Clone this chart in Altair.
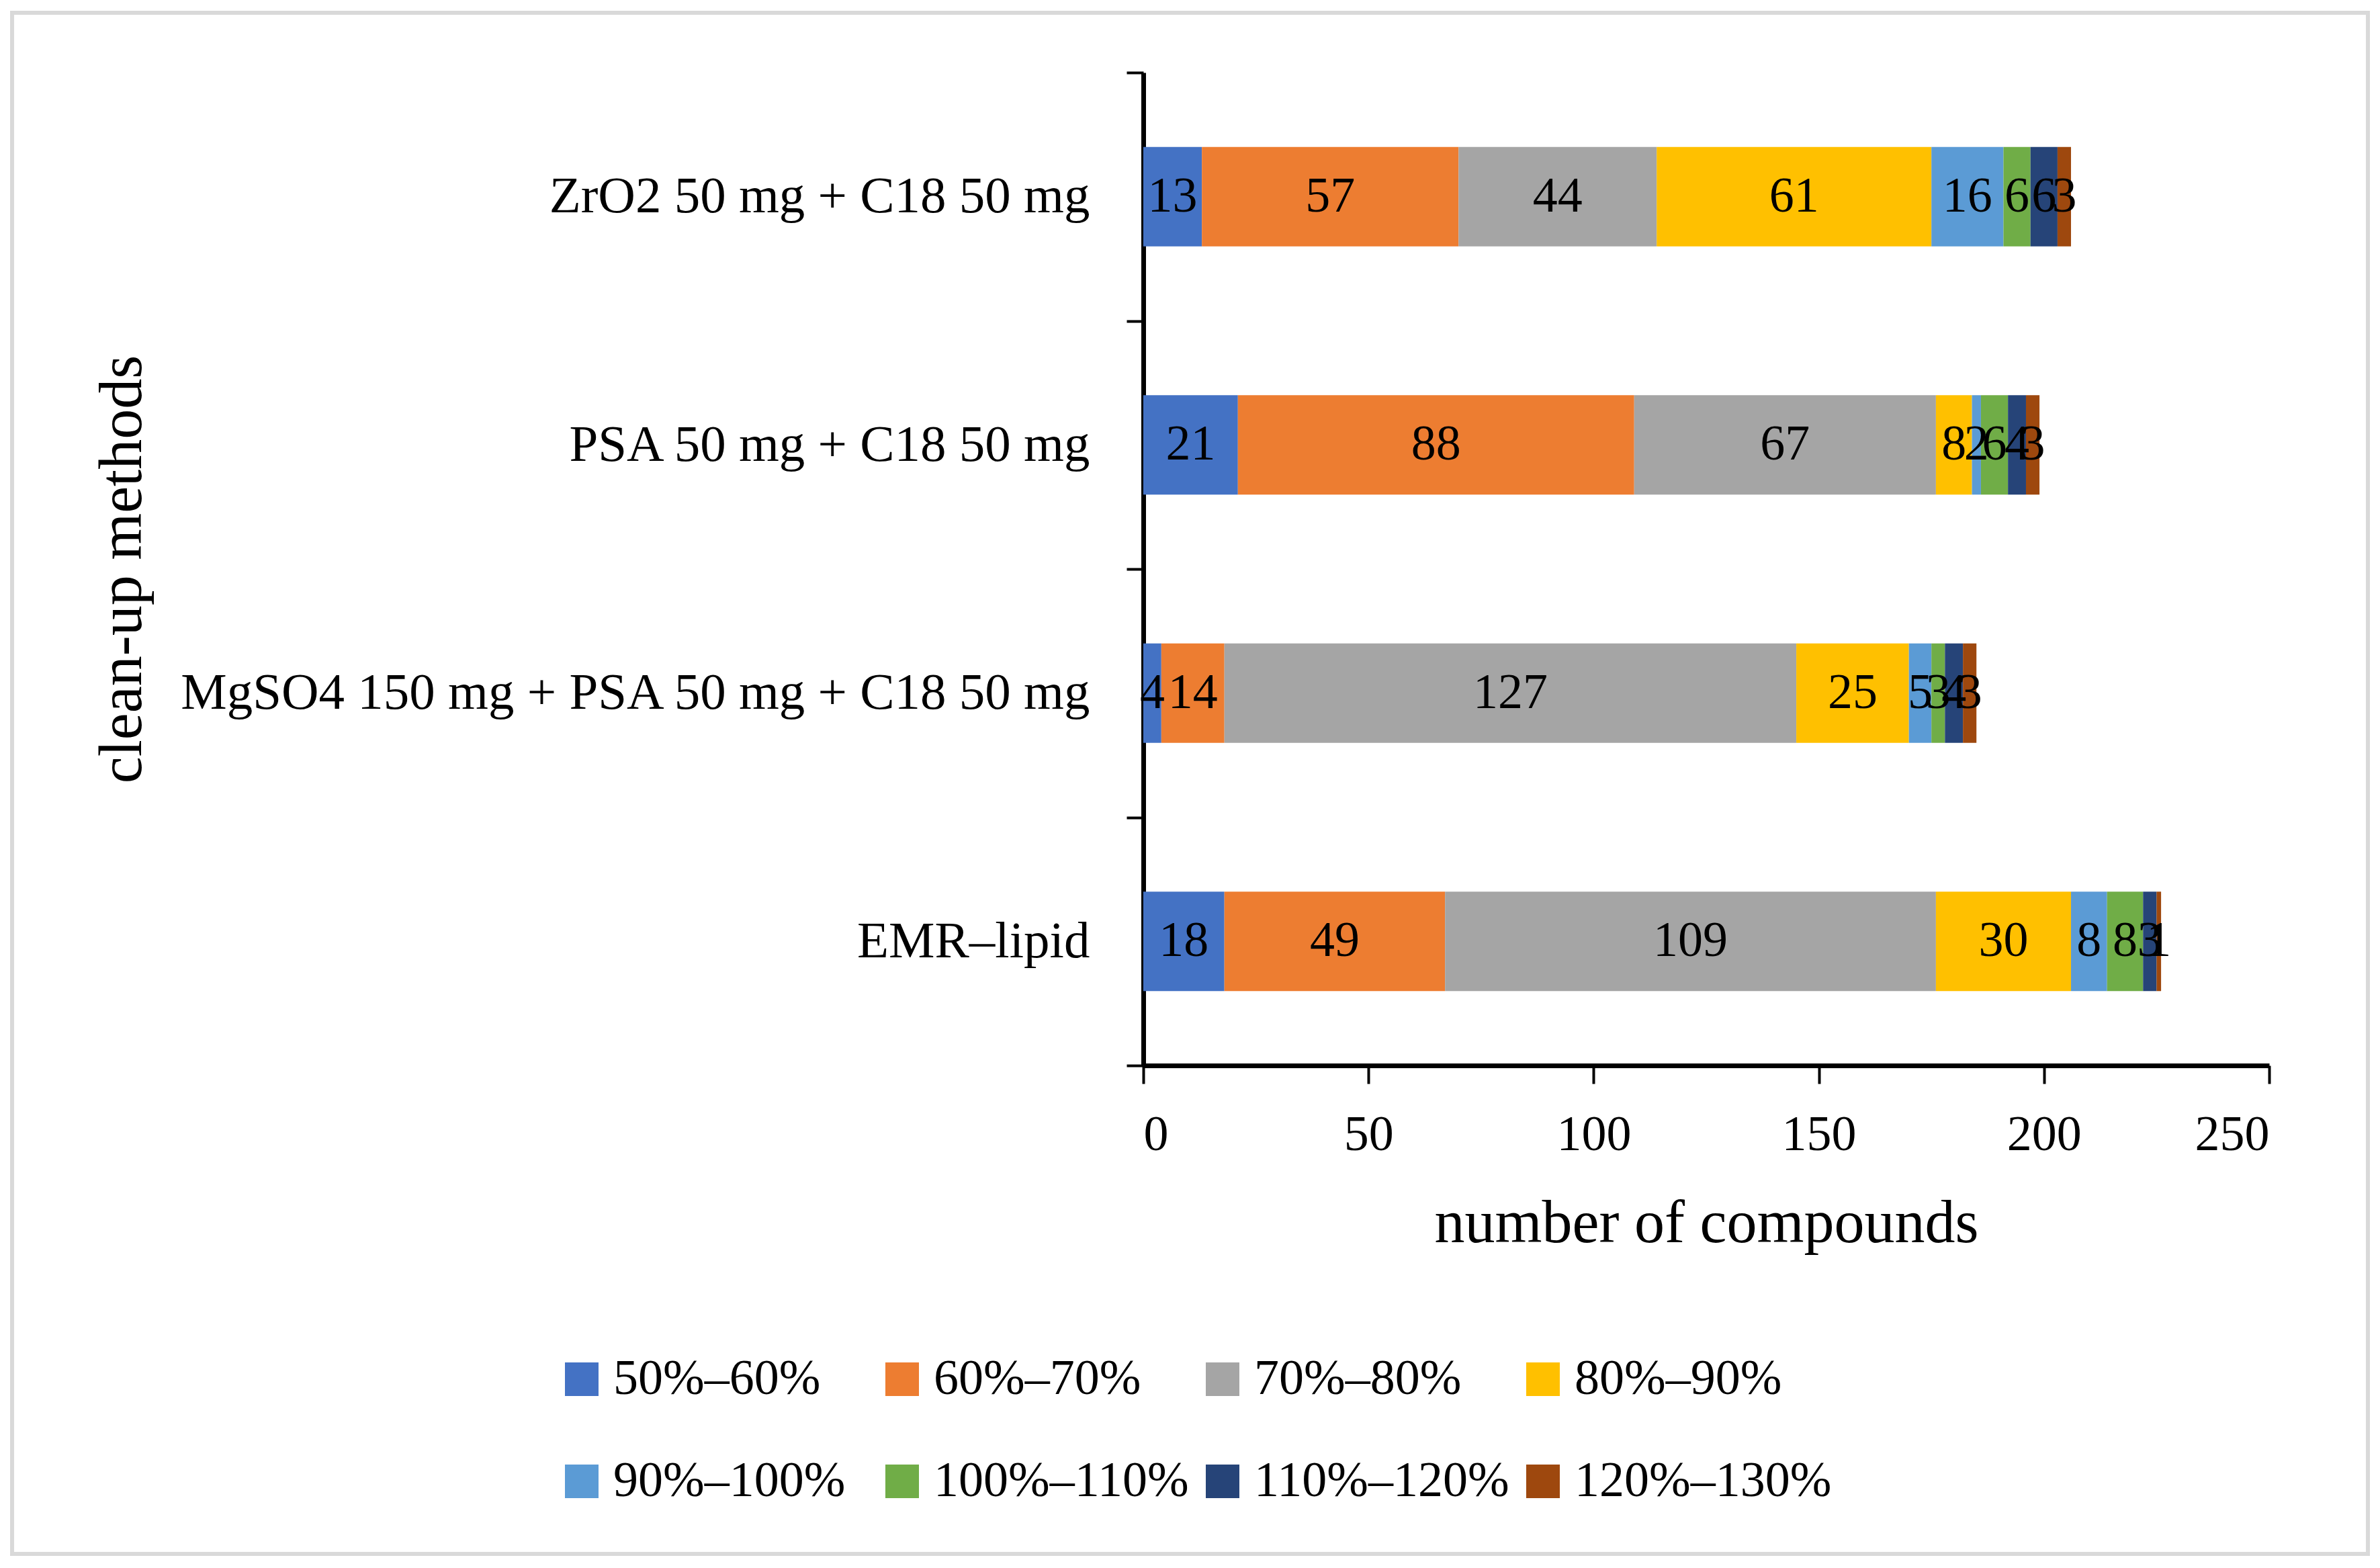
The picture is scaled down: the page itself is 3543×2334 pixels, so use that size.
import altair as alt
import pandas as pd

methods = ["ZrO2 50 mg + C18 50 mg", "PSA 50 mg + C18 50 mg",
           "MgSO4 150 mg + PSA 50 mg + C18 50 mg", "EMR\u2013lipid"]
ranges = ["50%\u201360%", "60%\u201370%", "70%\u201380%", "80%\u201390%",
          "90%\u2013100%", "100%\u2013110%", "110%\u2013120%", "120%\u2013130%"]
colors = ["#4472C4", "#ED7D31", "#A5A5A5", "#FFC000",
          "#5B9BD5", "#70AD47", "#264478", "#9E480E"]
zro2 = [13, 57, 44, 61, 16, 6, 6, 3]
psa = [21, 88, 67, 8, 2, 6, 4, 3]
mgso4 = [4, 14, 127, 25, 5, 3, 4, 3]
emr = [18, 49, 109, 30, 8, 8, 3, 1]
x_ticks = [0, 50, 100, 150, 200, 250]

rows = []
for m, vals in zip(methods, [zro2, psa, mgso4, emr]):
    for i, (r, v) in enumerate(zip(ranges, vals)):
        rows.append({"method": m, "range": r, "count": v, "order": i})
df = pd.DataFrame(rows)

FONT = "Liberation Serif"
W, H = 1676, 1478

base = alt.Chart(df).transform_stack(
    stack="count", groupby=["method"], as_=["x0", "x1"],
    sort=[alt.SortField("order", order="ascending")]
).transform_calculate(mid="(datum.x0 + datum.x1) / 2")

yenc = alt.Y("method:N", sort=methods,
             scale=alt.Scale(paddingInner=0, paddingOuter=0),
             axis=alt.Axis(title="clean-up methods", titleFont=FONT, titleFontSize=90,
                           titleFontWeight="normal", titleColor="black",
                           titleAngle=-90, titleX=-1520, titleY=H / 2,
                           titleAlign="center", titleBaseline="middle",
                           labelFont=FONT, labelFontSize=77, labelColor="black",
                           labelPadding=55, tickSize=25, tickWidth=4, tickColor="black",
                           tickBand="extent", domainColor="black", domainWidth=7,
                           labelLimit=2000))

bars = base.mark_bar(size=148).encode(
    x=alt.X("x0:Q", scale=alt.Scale(domain=[0, 250], nice=False),
            axis=alt.Axis(values=x_ticks, title="number of compounds", titleFont=FONT,
                          titleFontSize=90, titleFontWeight="normal", titleColor="black",
                          titleY=235, titleBaseline="middle",
                          labelFont=FONT, labelFontSize=74, labelColor="black",
                          labelPadding=40, tickSize=27, tickWidth=4, tickColor="black",
                          domainColor="black", domainWidth=7, grid=False)),
    x2="x1:Q",
    y=yenc,
    color=alt.Color("range:N", scale=alt.Scale(domain=ranges, range=colors),
                    legend=alt.Legend(title=None, orient="none", legendX=-873, legendY=1908,
                                      direction="horizontal", columns=4, gridAlign="all",
                                      symbolType="square", symbolSize=2500,
                                      symbolStrokeWidth=0, symbolOpacity=1,
                                      labelFont=FONT, labelFontSize=74, labelColor="black",
                                      labelOffset=10, columnPadding=10, rowPadding=78,
                                      labelLimit=2000)),
)

labels = base.mark_text(font=FONT, fontSize=74, color="black",
                        align="center", baseline="middle").encode(
    x="mid:Q",
    y=alt.Y("method:N", sort=methods),
    text="count:Q",
)

frame = alt.Chart(pd.DataFrame({"a": [0]})).mark_rect(
    fill=None, stroke="#d9d9d9", strokeWidth=6
).encode(
    x=alt.value(-1684), x2=alt.value(1823),
    y=alt.value(-89), y2=alt.value(2205),
)

chart = alt.layer(frame, bars, labels).properties(
    width=W, height=H,
    autosize=alt.AutoSizeParams(type="none"),
    padding={"left": 1694, "top": 100, "right": 157, "bottom": 730},
).configure_view(stroke=None).configure_axis(grid=False)

chart.save("out.html", embed_options={"renderer": "svg", "actions": False})
